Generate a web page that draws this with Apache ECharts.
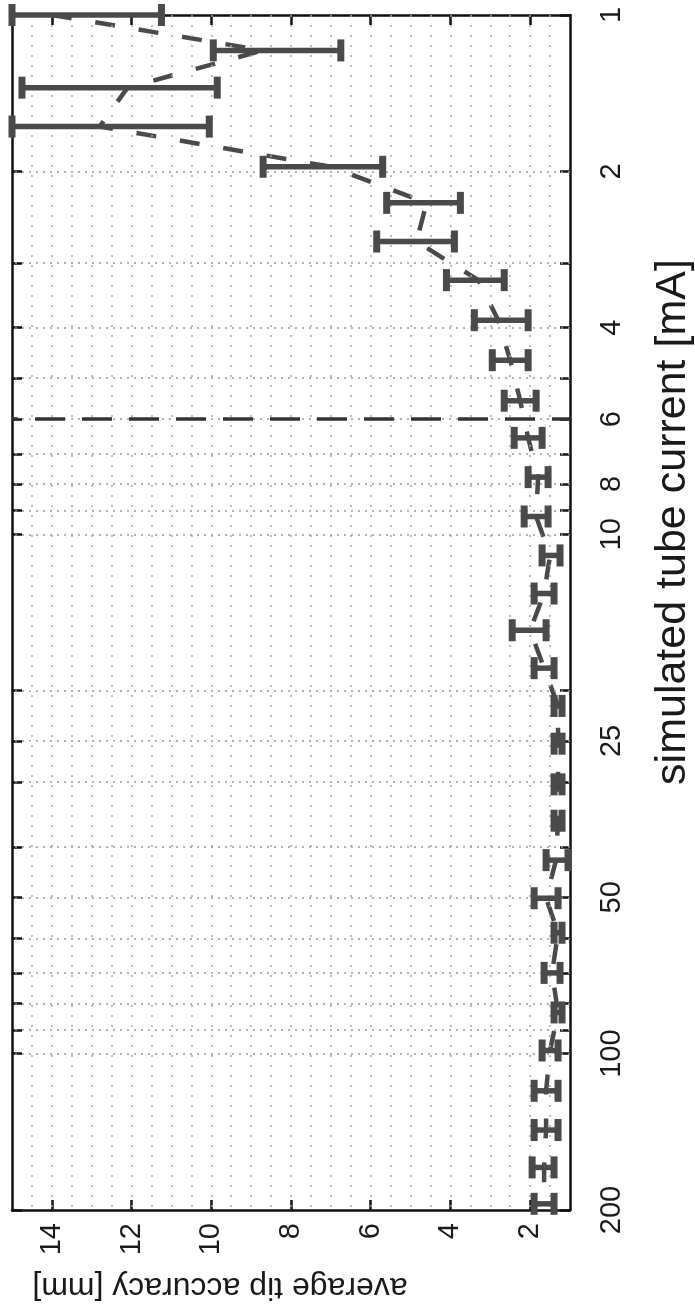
<!DOCTYPE html>
<html><head><meta charset="utf-8">
<script src="https://cdn.jsdelivr.net/npm/echarts@6/dist/echarts.min.js"></script>
<style>html,body{margin:0;padding:0;background:#fff}#c{width:695px;height:1311px}</style>
</head><body><div id="c"></div>
<script>
// simulated tube current [mA] of each measurement
const currents = [1, 1.17, 1.38, 1.64, 1.96, 2.3, 2.73, 3.24, 3.87, 4.62, 5.53, 6.52, 7.76, 9.24, 10.98, 13.0,
  15.3, 18.1, 21.4, 25.3, 30.3, 35.6, 42.4, 50.2, 58.5, 69.9, 83.3, 98.6, 117.9, 140.3, 165.6, 194.6];
// average tip accuracy [mm]
const meanAcc = [14.0, 8.7, 12.1, 12.8, 7.0, 4.6, 4.85, 3.3, 2.8, 2.5, 2.25, 2.05, 1.8, 1.85, 1.5, 1.65,
  2.0, 1.65, 1.3, 1.3, 1.3, 1.3, 1.35, 1.6, 1.3, 1.45, 1.3, 1.5, 1.6, 1.6, 1.65, 1.65];
const lowAcc = [11.25, 6.75, 9.85, 10.05, 5.7, 3.75, 3.9, 2.65, 2.05, 2.05, 1.85, 1.7, 1.55, 1.55, 1.25, 1.4,
  1.6, 1.4, 1.2, 1.2, 1.2, 1.2, 1.05, 1.3, 1.2, 1.25, 1.2, 1.3, 1.3, 1.3, 1.4, 1.4];
const highAcc = [15.0, 9.95, 14.75, 15.0, 8.7, 5.6, 5.85, 4.1, 3.4, 2.95, 2.65, 2.4, 2.05, 2.15, 1.7, 1.9,
  2.45, 1.9, 1.4, 1.4, 1.4, 1.4, 1.6, 1.9, 1.4, 1.65, 1.4, 1.7, 1.9, 1.9, 1.95, 1.9];
// axes
const currentTicks = [1, 2, 3, 4, 5, 6, 7, 8, 9, 10, 20, 25, 30, 40, 50, 60, 70, 80, 90, 100, 200];
const currentLabels = [1, 2, 4, 6, 8, 10, 25, 50, 100, 200];
const accuracyLabels = [2, 4, 6, 8, 10, 12, 14];
const thresholdCurrent = 6;

const FONT = '"Liberation Sans", Arial, Helvetica, sans-serif';
const INK = '#4a4a4a';
const FRAME = '#111';

const accuracyGrid = [];
for (let v = 1.5; v < 15; v += 0.5) accuracyGrid.push(v);
const currentGrid = currentTicks.filter(v => v > 1 && v < 200);

const gridLines = [];
accuracyGrid.forEach(v => gridLines.push({ xAxis: v, lineStyle: { color: '#a8a8a8', width: 1.5, type: [2, 8] } }));
currentGrid.forEach(v => gridLines.push({ yAxis: v, lineStyle: { color: '#999', width: 1.5, type: [2, 5] } }));

const frameLine = { show: true, onZero: false, lineStyle: { color: FRAME, width: 2.5 } };
const tickStyle = { color: FRAME, width: 2.5 };

const chart = echarts.init(document.getElementById('c'));
chart.setOption({
  animation: false,
  backgroundColor: '#fff',
  grid: { left: 12, right: 125, top: 15, bottom: 101 },
  xAxis: [
    { type: 'value', min: 1, max: 15, inverse: true, position: 'bottom',
      axisLine: frameLine,
      axisTick: { show: true, inside: true, length: 10, customValues: accuracyLabels, lineStyle: tickStyle },
      axisLabel: { show: true, customValues: accuracyLabels, rotate: 90, margin: 13, fontSize: 29,
        color: '#1a1a1a', fontFamily: FONT },
      splitLine: { show: false } },
    { type: 'value', min: 1, max: 15, inverse: true, position: 'top',
      axisLine: frameLine,
      axisTick: { show: true, inside: true, length: 10, customValues: accuracyLabels, lineStyle: tickStyle },
      axisLabel: { show: false }, splitLine: { show: false } }
  ],
  yAxis: [
    { type: 'log', logBase: 10, min: 1, max: 200, inverse: true, position: 'right',
      axisLine: frameLine,
      axisTick: { show: true, inside: true, length: 10, customValues: currentTicks, lineStyle: tickStyle },
      axisLabel: { show: true, customValues: currentLabels, rotate: 90, margin: 27, fontSize: 29,
        color: '#1a1a1a', fontFamily: FONT, formatter: v => String(Math.round(v)) },
      splitLine: { show: false } },
    { type: 'log', logBase: 10, min: 1, max: 200, inverse: true, position: 'left',
      axisLine: frameLine,
      axisTick: { show: true, inside: true, length: 10, customValues: currentTicks, lineStyle: tickStyle },
      axisLabel: { show: false }, splitLine: { show: false } }
  ],
  series: [
    { type: 'line', name: 'grid', xAxisIndex: 0, yAxisIndex: 0, data: [[meanAcc[0], currents[0]]],
      symbol: 'none', lineStyle: { opacity: 0 }, z: 1, silent: true,
      markLine: { silent: true, symbol: ['none', 'none'], label: { show: false }, animation: false,
        data: gridLines.concat([{ yAxis: thresholdCurrent,
          lineStyle: { color: '#333', width: 3.5, type: [30, 17], dashOffset: 12 } }]) } },
    { type: 'line', name: 'mean', xAxisIndex: 0, yAxisIndex: 0,
      data: currents.map((c, i) => [meanAcc[i], c]),
      symbol: 'none', showSymbol: false, z: 3,
      lineStyle: { color: INK, width: 4.5, type: [20, 24] } },
    { type: 'custom', name: 'std', xAxisIndex: 0, yAxisIndex: 0, clip: false, z: 5,
      data: currents.map((c, i) => [lowAcc[i], highAcc[i], c]),
      encode: { x: [0, 1], y: 2 },
      renderItem: function (params, api) {
        const c = api.value(2);
        const a = api.coord([api.value(0), c]);
        const b = api.coord([api.value(1), c]);
        const h = 11;
        const capStyle = { stroke: INK, lineWidth: 7 };
        return { type: 'group', children: [
          { type: 'line', shape: { x1: a[0], y1: a[1], x2: b[0], y2: b[1] }, style: { stroke: INK, lineWidth: 5.5 } },
          { type: 'line', shape: { x1: a[0], y1: a[1] - h, x2: a[0], y2: a[1] + h }, style: capStyle },
          { type: 'line', shape: { x1: b[0], y1: b[1] - h, x2: b[0], y2: b[1] + h }, style: capStyle }
        ] };
      } }
  ],
  graphic: [
    { type: 'text', x: 673, y: 522, rotation: Math.PI / 2,
      style: { text: 'simulated tube current [mA]', font: '43px ' + FONT, fill: '#1a1a1a',
        align: 'center', verticalAlign: 'middle' } },
    { type: 'text', x: 220, y: 1287, rotation: Math.PI,
      style: { text: 'average tip accuracy [mm]', font: '32px ' + FONT, fill: '#1a1a1a',
        align: 'center', verticalAlign: 'middle' } }
  ]
});
</script>
</body></html>
